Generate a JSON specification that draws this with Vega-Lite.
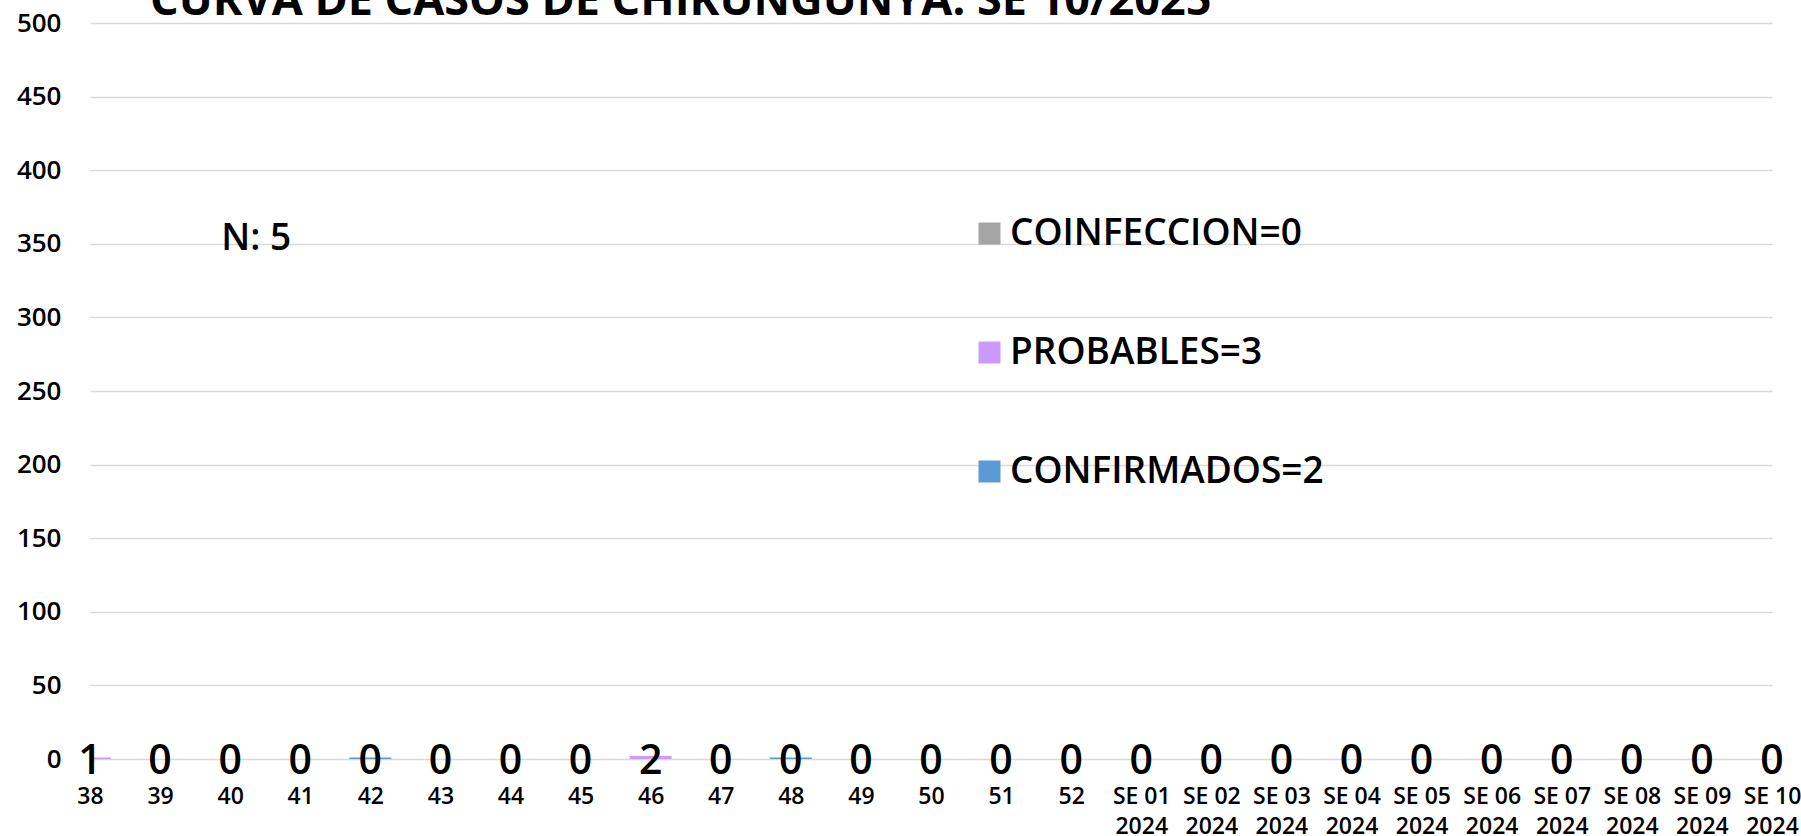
{
  "$schema": "https://vega.github.io/schema/vega-lite/v6.json",
  "width": 1682,
  "height": 736,
  "autosize": {"type": "none"},
  "padding": {"left": 90, "top": 23, "right": 29, "bottom": 77},
  "background": "white",
  "config": {"view": {"stroke": null}, "font": "Open Sans"},
  "title": {
    "text": "CURVA DE CASOS DE CHIKUNGUNYA. SE 10/2025",
    "anchor": "start",
    "frame": "group",
    "dx": 60,
    "fontSize": 45,
    "font": "Open Sans",
    "fontWeight": "bold",
    "color": "#000000",
    "offset": -14
  },
  "datasets": {
    "semanas": [
      {"semana": "38", "CONFIRMADOS": 0, "PROBABLES": 1, "COINFECCION": 0},
      {"semana": "39", "CONFIRMADOS": 0, "PROBABLES": 0, "COINFECCION": 0},
      {"semana": "40", "CONFIRMADOS": 0, "PROBABLES": 0, "COINFECCION": 0},
      {"semana": "41", "CONFIRMADOS": 0, "PROBABLES": 0, "COINFECCION": 0},
      {"semana": "42", "CONFIRMADOS": 1, "PROBABLES": 0, "COINFECCION": 0},
      {"semana": "43", "CONFIRMADOS": 0, "PROBABLES": 0, "COINFECCION": 0},
      {"semana": "44", "CONFIRMADOS": 0, "PROBABLES": 0, "COINFECCION": 0},
      {"semana": "45", "CONFIRMADOS": 0, "PROBABLES": 0, "COINFECCION": 0},
      {"semana": "46", "CONFIRMADOS": 0, "PROBABLES": 2, "COINFECCION": 0},
      {"semana": "47", "CONFIRMADOS": 0, "PROBABLES": 0, "COINFECCION": 0},
      {"semana": "48", "CONFIRMADOS": 1, "PROBABLES": 0, "COINFECCION": 0},
      {"semana": "49", "CONFIRMADOS": 0, "PROBABLES": 0, "COINFECCION": 0},
      {"semana": "50", "CONFIRMADOS": 0, "PROBABLES": 0, "COINFECCION": 0},
      {"semana": "51", "CONFIRMADOS": 0, "PROBABLES": 0, "COINFECCION": 0},
      {"semana": "52", "CONFIRMADOS": 0, "PROBABLES": 0, "COINFECCION": 0},
      {"semana": "SE 01 2024", "CONFIRMADOS": 0, "PROBABLES": 0, "COINFECCION": 0},
      {"semana": "SE 02 2024", "CONFIRMADOS": 0, "PROBABLES": 0, "COINFECCION": 0},
      {"semana": "SE 03 2024", "CONFIRMADOS": 0, "PROBABLES": 0, "COINFECCION": 0},
      {"semana": "SE 04 2024", "CONFIRMADOS": 0, "PROBABLES": 0, "COINFECCION": 0},
      {"semana": "SE 05 2024", "CONFIRMADOS": 0, "PROBABLES": 0, "COINFECCION": 0},
      {"semana": "SE 06 2024", "CONFIRMADOS": 0, "PROBABLES": 0, "COINFECCION": 0},
      {"semana": "SE 07 2024", "CONFIRMADOS": 0, "PROBABLES": 0, "COINFECCION": 0},
      {"semana": "SE 08 2024", "CONFIRMADOS": 0, "PROBABLES": 0, "COINFECCION": 0},
      {"semana": "SE 09 2024", "CONFIRMADOS": 0, "PROBABLES": 0, "COINFECCION": 0},
      {"semana": "SE 10 2024", "CONFIRMADOS": 0, "PROBABLES": 0, "COINFECCION": 0}
    ],
    "nota": [{"texto": "N: 5", "semana": "40", "y": 353}]
  },
  "data": {"name": "semanas"},
  "layer": [
    {
      "transform": [{"fold": ["CONFIRMADOS", "PROBABLES", "COINFECCION"], "as": ["serie", "casos"]}],
      "mark": {"type": "bar", "width": 42, "clip": true},
      "encoding": {
        "x": {
          "field": "semana",
          "type": "nominal",
          "sort": null,
          "scale": {"type": "point", "padding": 0},
          "axis": {
            "title": null,
            "domain": false,
            "ticks": false,
            "grid": false,
            "labelAngle": 0,
            "labelFontSize": 23,
            "labelFontWeight": 600,
            "labelColor": "#000000",
            "labelPadding": 26,
            "labelLineHeight": 30,
            "labelBaseline": "top",
            "labelOverlap": false,
            "labelBound": false,
            "labelExpr": "length(datum.value) > 3 ? [substring(datum.value, 0, 5), substring(datum.value, 6)] : datum.value"
          }
        },
        "y": {
          "field": "casos",
          "type": "quantitative",
          "stack": "zero",
          "scale": {"domain": [0, 500]},
          "axis": {
            "title": null,
            "domain": false,
            "ticks": false,
            "values": [0, 50, 100, 150, 200, 250, 300, 350, 400, 450, 500],
            "labelFontSize": 26,
            "labelFontWeight": 600,
            "labelColor": "#000000",
            "labelPadding": 29,
            "gridColor": "#D9D9D9",
            "gridWidth": 1.5
          }
        },
        "color": {
          "field": "serie",
          "type": "nominal",
          "scale": {
            "domain": ["COINFECCION", "PROBABLES", "CONFIRMADOS"],
            "range": ["#A5A5A5", "#CC99FF", "#5B9BD5"]
          },
          "legend": {
            "orient": "none",
            "legendX": 881,
            "legendY": 192,
            "title": null,
            "padding": 0,
            "symbolType": "square",
            "symbolSize": 484,
            "symbolStrokeWidth": 0,
            "symbolOpacity": 1,
            "labelFontSize": 37,
            "labelFont": "Open Sans",
            "labelFontWeight": 600,
            "labelColor": "#000000",
            "labelOffset": 2,
            "labelLimit": 0,
            "rowPadding": 81,
            "labelExpr": "datum.label == 'COINFECCION' ? 'COINFECCION=0' : datum.label == 'PROBABLES' ? 'PROBABLES=3' : 'CONFIRMADOS=2'"
          }
        }
      }
    },
    {
      "mark": {"type": "text", "fontSize": 41, "fontWeight": 600, "baseline": "middle", "align": "center", "dy": 3, "color": "#000000"},
      "encoding": {
        "x": {"field": "semana", "type": "nominal", "sort": null},
        "y": {"datum": 0},
        "text": {"field": "PROBABLES"}
      }
    },
    {
      "data": {"name": "nota"},
      "mark": {"type": "text", "fontSize": 37, "fontWeight": 600, "align": "left", "baseline": "middle", "dx": -9, "color": "#000000"},
      "encoding": {
        "x": {"field": "semana", "type": "nominal", "sort": null},
        "y": {"field": "y", "type": "quantitative"},
        "text": {"field": "texto"}
      }
    }
  ]
}
